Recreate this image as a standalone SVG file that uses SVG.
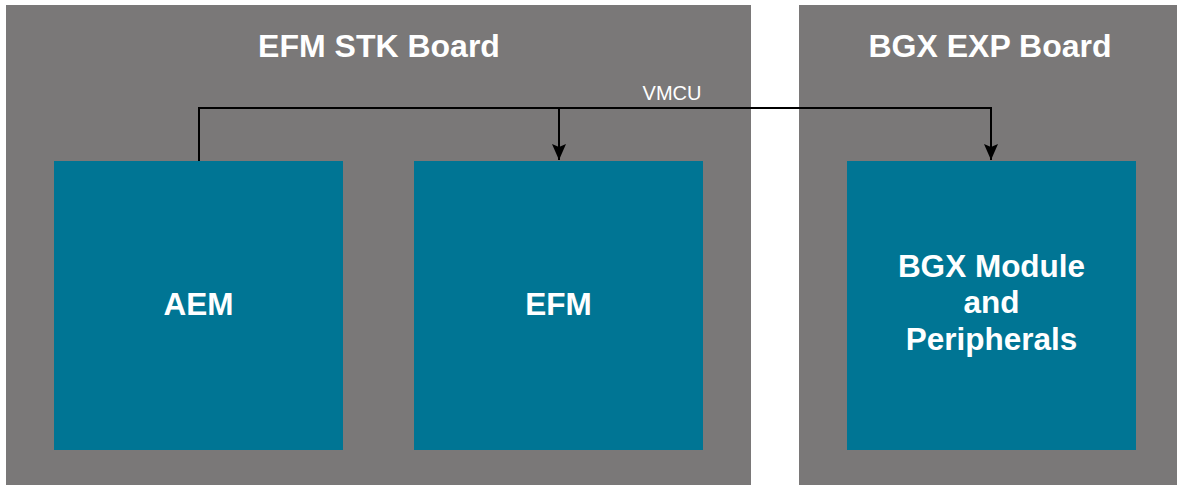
<svg xmlns="http://www.w3.org/2000/svg" width="1177" height="485" viewBox="0 0 1177 485">
<style>
.board{fill:#7a7878}
.blk{fill:#007594}
.title{font-family:"Liberation Sans",Arial,sans-serif;font-weight:bold;font-size:32px;fill:#ffffff;text-anchor:middle}
.lbl{font-family:"Liberation Sans",Arial,sans-serif;font-weight:bold;font-size:31.5px;fill:#ffffff;text-anchor:middle}
.wire{fill:none;stroke:#000000;stroke-width:2}
.vm{font-family:"Liberation Sans",Arial,sans-serif;font-size:20px;fill:#ffffff;text-anchor:middle}
</style>
<defs>
<marker id="arr" markerUnits="userSpaceOnUse" markerWidth="18" markerHeight="18" viewBox="0 0 18 18" refX="17" refY="9" orient="auto">
<path d="M1,2 L17,9 L1,16 L4,9 Z" fill="#000000"/>
</marker>
</defs>
<rect width="1177" height="485" fill="#ffffff"/>
<g id="efm-stk-board">
<rect class="board" x="6" y="5" width="745" height="480"/>
<text class="title" x="379" y="57">EFM STK Board</text>
</g>
<g id="bgx-exp-board">
<rect class="board" x="799" y="5" width="378" height="480"/>
<text class="title" x="990" y="57">BGX EXP Board</text>
</g>
<g id="aem">
<rect class="blk" x="54" y="161" width="289" height="289"/>
<text class="lbl" x="198.5" y="315">AEM</text>
</g>
<g id="efm">
<rect class="blk" x="414" y="161" width="289" height="289"/>
<text class="lbl" x="558.5" y="315">EFM</text>
</g>
<g id="bgx-module">
<rect class="blk" x="847" y="161" width="289" height="289"/>
<text class="lbl" x="991.5" y="277">BGX Module</text>
<text class="lbl" x="991.5" y="313">and</text>
<text class="lbl" x="991.5" y="350">Peripherals</text>
</g>
<g id="connectors">
<path class="wire" d="M199,161 L199,108 L991,108 L991,160" marker-end="url(#arr)"/>
<path class="wire" d="M559,108 L559,160" marker-end="url(#arr)"/>
<text class="vm" x="672" y="100">VMCU</text>
</g>
</svg>
